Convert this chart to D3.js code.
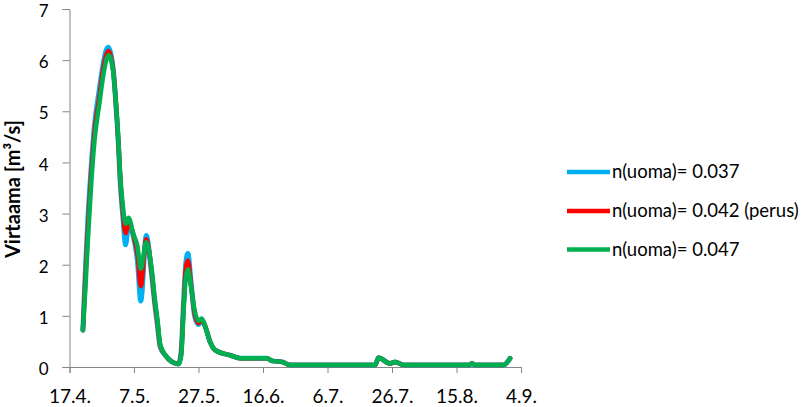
<!DOCTYPE html>
<html>
<head>
<meta charset="utf-8">
<script src="https://cdn.jsdelivr.net/npm/d3@7"></script>
<style>
  html, body { margin: 0; padding: 0; background: #fff; }
  svg { display: block; }
  text { font-family: Lato, "Open Sans", sans-serif; fill: #000; }
</style>
</head>
<body>
<svg id="chart" width="812" height="407"></svg>
<script>
// Day offsets from 17.4.
const dayOffsets = [4.15, 4.9, 5.7, 6.6, 7.7, 9.3, 10.6, 11.4, 12.1, 12.9, 13.6, 14.4, 15.2, 15.7, 16.6, 17.4, 18.3, 19.8, 21.1, 22.1, 23.8, 25.4, 26.5, 27.3, 28.1, 29.7, 31.8, 33.8, 34.6, 35.4, 36.1, 36.7, 37.7, 38.8, 40, 41, 42.1, 43.6, 45.2, 49.8, 53, 61.2, 62.8, 65.9, 68.4, 94.8, 95.8, 99.4, 101, 103.6, 124, 124.8, 125.6, 134.6, 136.6];

const seriesNames = ["n(uoma)= 0.037", "n(uoma)= 0.042 (perus)", "n(uoma)= 0.047"];
const seriesColors = ["#00B0F0", "#FF0000", "#00B050"];

const values037 = [0.72, 1.85, 2.9, 3.8, 4.7, 5.45, 5.98, 6.2, 6.25, 6.1, 5.8, 5.12, 4.3, 3.65, 2.9, 2.39, 2.78, 2.56, 2.05, 1.29, 2.57, 1.85, 1.2, 0.8, 0.4, 0.23, 0.10, 0.06, 0.3, 1.3, 2.05, 2.22, 1.65, 1.0, 0.83, 0.92, 0.79, 0.49, 0.33, 0.23, 0.17, 0.17, 0.12, 0.10, 0.04, 0.04, 0.18, 0.07, 0.1, 0.04, 0.04, 0.07, 0.04, 0.04, 0.17];
const values042 = [0.72, 1.7, 2.7, 3.65, 4.55, 5.3, 5.88, 6.1, 6.18, 6.05, 5.78, 5.15, 4.35, 3.72, 3.0, 2.62, 2.85, 2.58, 2.2, 1.58, 2.5, 1.9, 1.25, 0.85, 0.42, 0.23, 0.10, 0.06, 0.25, 1.2, 1.95, 2.08, 1.6, 1.05, 0.86, 0.93, 0.79, 0.49, 0.33, 0.23, 0.17, 0.17, 0.12, 0.10, 0.04, 0.04, 0.18, 0.07, 0.1, 0.04, 0.04, 0.07, 0.04, 0.04, 0.17];
const values047 = [0.72, 1.5, 2.48, 3.45, 4.39, 5.17, 5.75, 6.0, 6.1, 6.0, 5.75, 5.17, 4.39, 3.78, 3.12, 2.80, 2.92, 2.6, 2.35, 1.92, 2.44, 1.96, 1.31, 0.92, 0.46, 0.23, 0.10, 0.06, 0.2, 1.11, 1.76, 1.91, 1.56, 1.11, 0.90, 0.95, 0.79, 0.49, 0.33, 0.23, 0.17, 0.17, 0.12, 0.10, 0.04, 0.04, 0.18, 0.07, 0.1, 0.04, 0.04, 0.07, 0.04, 0.04, 0.17];

const xTickValues = [0, 20, 40, 60, 80, 100, 120, 140];
const xTickLabels = ["17.4.", "7.5.", "27.5.", "16.6.", "6.7.", "26.7.", "15.8.", "4.9."];
const yTickValues = [0, 1, 2, 3, 4, 5, 6, 7];
const yTitle = "Virtaama [m³/s]";

const allSeries = [values037, values042, values047];

const svg = d3.select("#chart");
const x = d3.scaleLinear().domain([0, 140]).range([69.5, 521]);
const y = d3.scaleLinear().domain([0, 7]).range([367, 9]);
const axisColor = "#868686";

// Y axis
const yAxis = svg.append("g").attr("transform", `translate(${x(0)},0)`)
  .call(d3.axisLeft(y).tickValues(yTickValues).tickSize(7).tickPadding(14).tickFormat(d3.format("d")));
yAxis.select(".domain").attr("stroke", axisColor);
yAxis.selectAll(".tick line").attr("stroke", axisColor);
yAxis.selectAll("text").attr("font-size", 17).attr("dy", "0.45em")
  .attr("font-family", "Lato, sans-serif").attr("fill", "#000");

// X axis
const xAxis = svg.append("g").attr("transform", `translate(0,${y(0)})`)
  .call(d3.axisBottom(x).tickValues(xTickValues).tickSize(6).tickPadding(17)
    .tickFormat((d, i) => xTickLabels[i]));
xAxis.select(".domain").attr("stroke", axisColor);
xAxis.selectAll(".tick line").attr("stroke", axisColor);
xAxis.selectAll("text").attr("font-size", 19).attr("font-family", "Lato, sans-serif").attr("fill", "#000");

// Y title
svg.append("text")
  .attr("transform", `translate(20,189) rotate(-90)`)
  .attr("text-anchor", "middle")
  .attr("font-size", 20)
  .attr("font-weight", "bold")
  .text(yTitle);

// Lines
const line = d3.line()
  .x((d, i) => x(dayOffsets[i]))
  .y(d => y(d))
  .curve(d3.curveMonotoneX);

const widths = [5, 4.5, 4.5];
allSeries.forEach((vals, k) => {
  svg.append("path")
    .attr("d", line(vals))
    .attr("fill", "none")
    .attr("stroke", seriesColors[k])
    .attr("stroke-width", widths[k])
    .attr("stroke-linejoin", "round")
    .attr("stroke-linecap", "round");
});

// Legend
const legendY = [172, 211, 249.5];
seriesNames.forEach((name, k) => {
  svg.append("line")
    .attr("x1", 567).attr("x2", 610)
    .attr("y1", legendY[k]).attr("y2", legendY[k])
    .attr("stroke", seriesColors[k]).attr("stroke-width", 4.5);
  svg.append("text")
    .attr("x", 612).attr("y", legendY[k])
    .attr("dy", "0.35em")
    .attr("font-size", 18.5)
    .text(name);
});
</script>
</body>
</html>
